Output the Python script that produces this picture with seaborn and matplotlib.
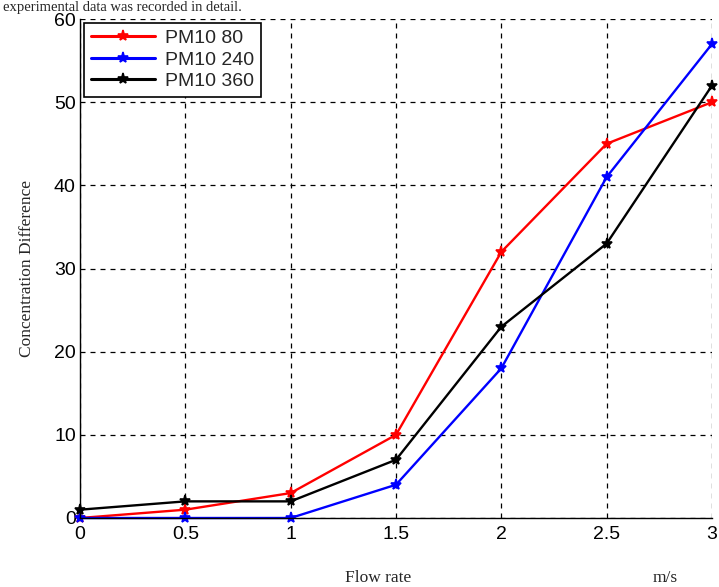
import matplotlib
matplotlib.use("Agg")
import matplotlib.pyplot as plt
import seaborn as sns
import pandas as pd

flow = [0, 0.5, 1, 1.5, 2, 2.5, 3]
pm80 = [0, 1, 3, 10, 32, 45, 50]
pm240 = [0, 0, 0, 4, 18, 41, 57]
pm360 = [1, 2, 2, 7, 23, 33, 52]
series = ["PM10 80", "PM10 240", "PM10 360"]
colors = ["#ff0000", "#0000ff", "#000000"]

df = pd.concat([
    pd.DataFrame({"flow": flow, "val": v, "series": s})
    for s, v in zip(series, [pm80, pm240, pm360])
])

sns.set_style("white")
plt.rcParams["font.family"] = ["Liberation Sans", "DejaVu Sans"]

fig = plt.figure(figsize=(7.19, 5.87), dpi=100)
ax = fig.add_axes([80/719, 1-518/587, (712-80)/719, (518-19)/587])

sns.lineplot(data=df, x="flow", y="val", hue="series", palette=colors,
             style="series", markers={s: "*" for s in series}, dashes=False,
             markersize=8, linewidth=1.7, ax=ax, legend=True)

for ln in ax.lines:
    ln.set_markeredgecolor(ln.get_color())
    ln.set_markerfacecolor(ln.get_color())
    ln.set_markeredgewidth(1.2)
    ln.set_clip_on(False)

ax.set_xlim(0, 3)
ax.set_ylim(0, 60)
ax.set_xticks(flow)
ax.set_xticklabels(["0", "0.5", "1", "1.5", "2", "2.5", "3"])
ax.set_yticks([0, 10, 20, 30, 40, 50, 60])
ax.tick_params(axis="both", labelsize=14, direction="in", length=4, width=0.8, colors="black", pad=3)
ax.tick_params(axis="x", pad=6)
ax.grid(True, linestyle=(0, (4, 4)), color="black", linewidth=0.9)
ax.set_axisbelow(True)
for side in ["top", "right"]:
    ax.spines[side].set_visible(False)
for side in ["left", "bottom"]:
    ax.spines[side].set_color("black")
    ax.spines[side].set_linewidth(1.0)
ax.set_xlabel("")
ax.set_ylabel("Concentration Difference", family="Liberation Serif", fontsize=12.5, labelpad=14)

handles, labels = ax.get_legend_handles_labels()
for h in handles:
    h.set_markeredgecolor(h.get_color())
    h.set_markerfacecolor(h.get_color())
    h.set_markersize(8)
    h.set_linewidth(2.2)
leg = ax.legend(handles, labels, loc="upper left", fontsize=14, frameon=True,
                fancybox=False, edgecolor="black", framealpha=1,
                borderaxespad=0.2, handlelength=3.3, labelspacing=0.2,
                borderpad=0.35, handletextpad=0.5)
leg.get_frame().set_linewidth(1.2)

fig.text(378/719, 1-578/587, "Flow rate", family="Liberation Serif", fontsize=12.5,
         ha="center", va="center")
fig.text(665/719, 1-578/587, "m/s", family="Liberation Serif", fontsize=12.5,
         ha="center", va="center")
fig.text(0.004, 0.999, "experimental data was recorded in detail.", family="Liberation Serif",
         fontsize=10.5, ha="left", va="top")

fig.savefig("out.png", dpi=100)
